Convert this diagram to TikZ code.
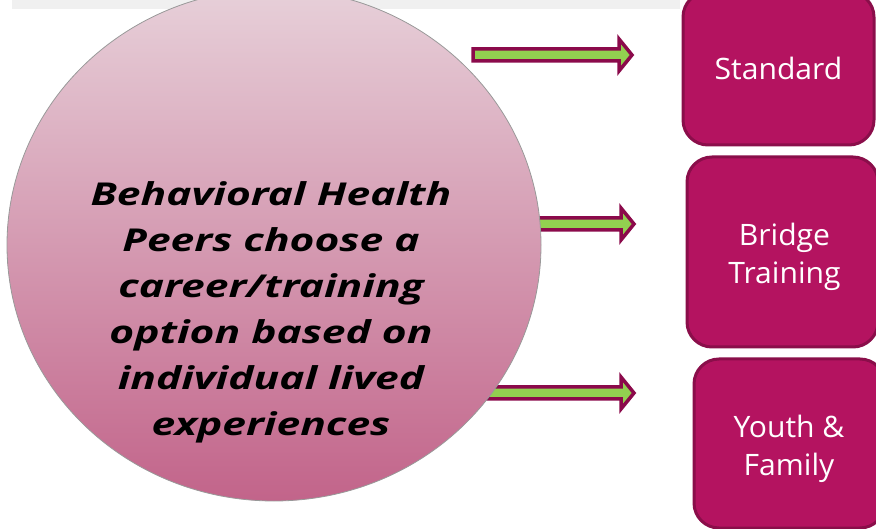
\documentclass[tikz,border=0pt]{standalone}
\usepackage{fontspec}
\setmainfont{Open Sans}
\newfontfamily\peerfont[FakeStretch=1.35]{Open Sans}
\newfontfamily\boxfont[FakeStretch=1.02]{Open Sans}
\usetikzlibrary{shapes.geometric}
\definecolor{boxfill}{HTML}{B41360}
\definecolor{boxedge}{HTML}{8A0E4A}
\definecolor{arrowedge}{HTML}{8B0A4B}
\definecolor{arrowfill}{HTML}{92D050}
\definecolor{bandgray}{HTML}{F0F0F0}
\definecolor{circtop}{HTML}{E7D0D9}
\definecolor{circbot}{HTML}{C2648A}
\tikzset{
  blockarrow/.style={draw=arrowedge, fill=arrowfill, line width=3.5pt, line join=miter},
  optionbox/.style={draw=boxedge, fill=boxfill, line width=3pt, rounded corners=25pt,
    minimum width=191pt, inner sep=0pt},
  optiontext/.style={text=white, align=center, inner sep=0pt,
    font=\boxfont\fontsize{29.5}{38}\selectfont},
  peercircle/.style={ellipse, draw=gray!80, line width=0.8pt, top color=circtop,
    bottom color=circbot, minimum width=534pt, minimum height=512pt, inner sep=0pt},
  peertextstyle/.style={align=center, text=black, inner sep=0pt,
    font=\peerfont\fontsize{31.5}{46}\selectfont\bfseries\itshape}
}
\begin{document}
\begin{tikzpicture}[x=1pt,y=-1pt]
\useasboundingbox (0,0) rectangle (876,529);
\fill[bandgray] (12,0) rectangle (680,9);
% arrows
\draw[blockarrow] (473,49) -- (619,49) -- (619,39) -- (632,55) -- (619,71) -- (619,61) -- (473,61) -- cycle;
\draw[blockarrow] (520,218) -- (621,218) -- (621,208) -- (634,224) -- (621,240) -- (621,230) -- (520,230) -- cycle;
\draw[blockarrow] (470,387) -- (621,387) -- (621,377) -- (634,393) -- (621,409) -- (621,399) -- (470,399) -- cycle;
% circle
\node[peercircle] (peer) at (274,245) {};
\node[peertextstyle] (peertext) at (271,312) {Behavioral Health\\Peers choose a\\career/training\\option based on\\individual lived\\experiences};
% boxes
\node[optionbox, minimum height=153pt] (standard) at (778.5,68.5) {};
\node[optionbox, minimum height=190pt] (bridge) at (782.5,252) {};
\node[optionbox, minimum height=169pt] (youth) at (789.5,443.5) {};
\node[optiontext] (standardtext) at (778.5,68.5) {Standard};
\node[optiontext] (bridgetext) at (784.5,256.5) {Bridge\\Training};
\node[optiontext] (youthtext) at (789,449) {Youth \&\\Family};
\end{tikzpicture}
\end{document}
